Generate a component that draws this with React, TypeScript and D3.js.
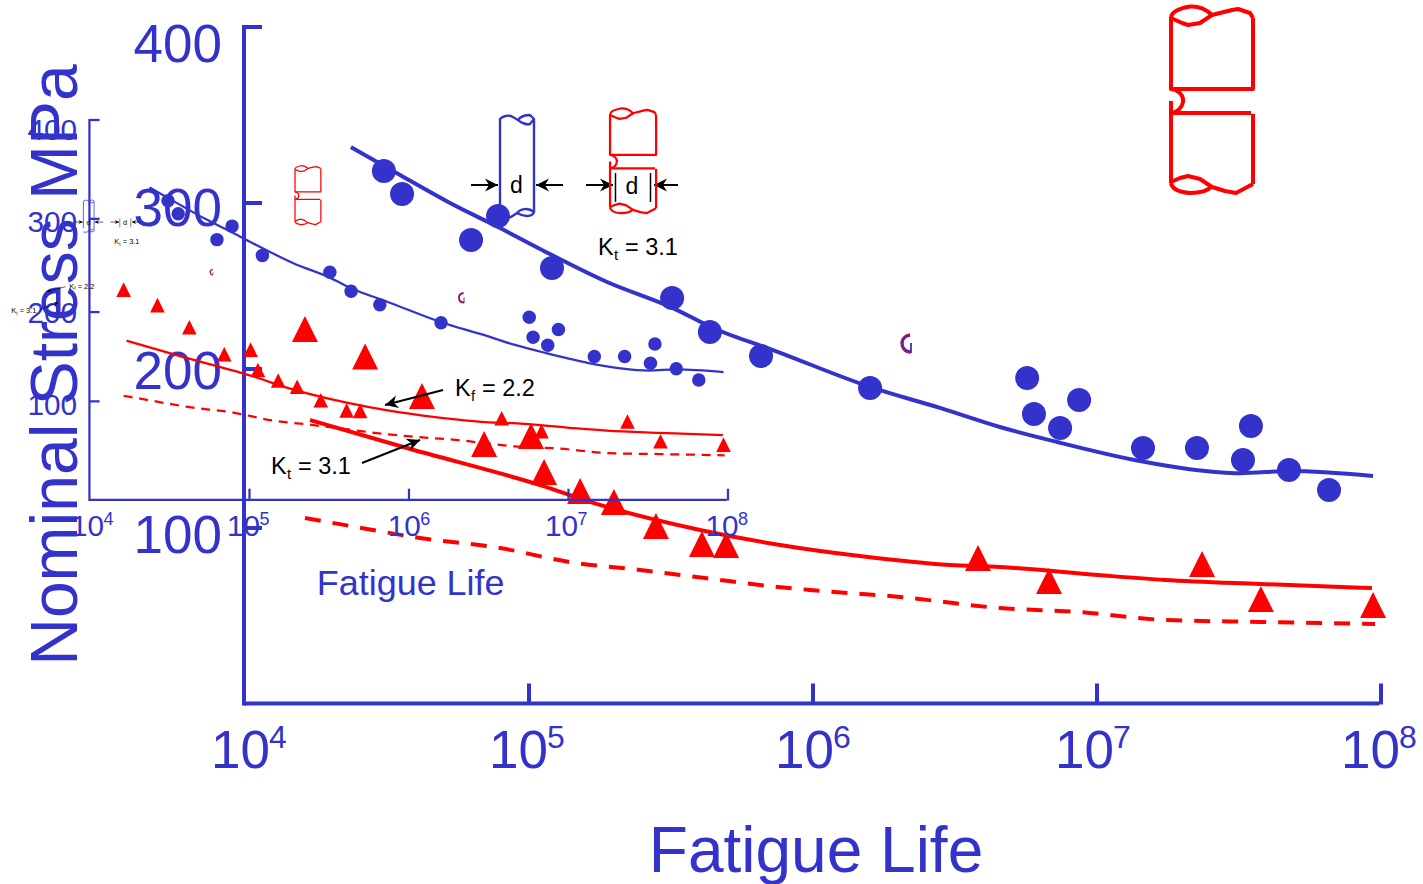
import React from "react";
import * as d3 from "d3";

const BLUE = "#3333CC";
const RED = "#FF0000";
const FONT = "'Liberation Sans', Arial, sans-serif";

// --- data (log10 of life, stress in MPa) ---
const dotLogLife = [4.489, 4.553, 4.891, 4.796, 5.081, 5.504, 5.637, 5.817, 6.201, 6.754, 6.778, 6.937, 6.87, 7.162, 7.352, 7.542, 7.514, 7.676, 7.817];
const dotStress = [318.2, 305.1, 292.2, 277.7, 260.8, 242.8, 222.3, 207.8, 188.1, 194.3, 171.7, 180.5, 162.9, 150.3, 150.3, 164.2, 142.8, 136.5, 123.9];
const triLogLife = [4.211, 4.423, 4.623, 4.842, 5.007, 5.053, 5.18, 5.299, 5.447, 5.609, 5.694, 6.581, 6.831, 7.37, 7.577, 7.972];
const triStress = [224.1, 207.5, 183.0, 152.8, 157.9, 135.2, 123.3, 116.4, 101.3, 90.9, 90.3, 82.9, 69.8, 79.5, 59.5, 56.1];
const blueCurveLog = [4.373, 4.546, 4.722, 4.898, 5.039, 5.275, 5.507, 5.648, 5.859, 6.211, 6.447, 6.658, 6.859, 7.151, 7.327, 7.504, 7.68, 7.972];
const blueCurveStress = [331.8, 315.9, 300, 284.9, 272.3, 252.4, 236.7, 224.7, 211.4, 188.1, 175.5, 163.5, 154.1, 142.1, 137, 134.5, 135.8, 132.7];
const redCurveLog = [4.229, 4.57, 5.039, 5.25, 5.602, 5.884, 6.165, 6.482, 6.658, 7.004, 7.239, 7.574, 7.968];
const redCurveStress = [167.9, 150.3, 127, 114.5, 98.9, 90.3, 84.0, 78.9, 77.8, 73.2, 70.4, 68.1, 65.8];
const dashCurveLog = [4.211, 4.37, 4.616, 4.898, 5.144, 5.391, 5.673, 5.813, 5.989, 6.306, 6.658, 6.94, 7.239, 7.574, 7.979];
const dashCurveStress = [106.3, 101.3, 94.3, 88.6, 80.6, 76.1, 70.4, 67.5, 64.7, 60.7, 54.4, 52.1, 47.6, 46.5, 45.3];
const xTickExps = [4, 5, 6, 7, 8];
const yTickValues = [100, 200, 300, 400];

// --- scales ---
const x = d3.scaleLog().domain([1e4, 1e8]).range([245, 1381]);
const y = d3.scaleLinear().domain([0, 100, 200, 300, 400]).range([703.5, 528, 369, 203, 27]);
const yLabel = d3.scaleLinear().domain([100, 400]).range([553, 62]);
const px = (e: number) => x(Math.pow(10, e));

const makeLine = (xs: number[], ys: number[]) =>
  d3.line<number>().x((e) => px(e)).y((_, i) => y(ys[i])).curve(d3.curveMonotoneX)(xs) as string;

const xLabelNudge: Record<number, number> = { 4: -34, 5: -40, 6: -38, 7: -42, 8: -40 };

// copy transforms of the pasted, shrunken figure
const T1 = "matrix(0.5616 0 0 0.5616 -47.6 104.84)";
const T2 = "matrix(0.3154 0 0 0.3154 -74.33 163.7)";

const specimenPaths = [
  "M1171,18 C1171,12 1180,8 1190,6.5 C1200,6 1207,10 1212,15 L1232,10 L1238,9 L1250,13 L1253,18",
  "M1171,18 L1182,23 L1188,25 L1200,23 L1212,15",
  "M1171,18 V89 H1253 V18",
  "M1171,89 C1180,90 1184,97 1183,102 C1182,108 1177,112 1172,113",
  "M1171,101 V113 H1251",
  "M1171,113 V183",
  "M1253,114 V184",
  "M1171,182 L1180,178 L1188,176 L1200,179 L1212,187 L1225,191 L1236,193 L1253,184",
  "M1171,183 C1172,188 1176,192 1190,193 C1200,193 1208,191 1212,186",
];

const Specimen = () => (
  <g fill="none" stroke={RED} strokeWidth={4} strokeLinejoin="round">
    {specimenPaths.map((d, i) => <path key={i} d={d} />)}
  </g>
);

const Hook = () => (
  <g fill="none">
    <path d="M910,335 C904,336 902,340 902,343 C902,348 905,352 911,352" stroke={RED} strokeWidth={3.4} />
    <path d="M910,335 C904,336 902,340 902,343 C902,348 905,352 911,352 V343" stroke={BLUE} strokeWidth={1.8} />
  </g>
);

const Arrow = ({ x1, y1, x2, y2 }: { x1: number; y1: number; x2: number; y2: number }) => {
  const a = (Math.atan2(y2 - y1, x2 - x1) * 180) / Math.PI;
  return (
    <g>
      <line x1={x1} y1={y1} x2={x2} y2={y2} stroke="#000" strokeWidth={2} />
      <path d="M0,0 L-13,-6.5 L-9,0 L-13,6.5 Z" fill="#000" transform={`translate(${x2},${y2}) rotate(${a})`} />
    </g>
  );
};

const KLabel = ({ px: lx, py, sub, val }: { px: number; py: number; sub: string; val: string }) => (
  <g fontFamily={FONT} fill="#000">
    <text x={lx} y={py} fontSize={23.5}>K</text>
    <text x={lx + 16} y={py + 5} fontSize={15}>{sub}</text>
    <text x={lx + 27} y={py} fontSize={23.5}>{val}</text>
  </g>
);

const Annotation = () => (
  <g>
    <g fill="none" stroke={BLUE} strokeWidth={2.4} strokeLinejoin="round">
      <path d="M500,205 V119 C503,116 508,115 511,116 L518,120 C521,116 527,115 530,115 L534,119 V212" />
      <path d="M518,120 C521,123 527,125 530,124 L534,119" />
      <path d="M500,217 L511,217 L517,213 C520,209 528,207 534,212 C533,216 526,218 517,213" />
    </g>
    <Arrow x1={471} y1={185} x2={498} y2={185} />
    <Arrow x1={563} y1={185} x2={536} y2={185} />
    <Arrow x1={586} y1={185} x2={613} y2={185} />
    <Arrow x1={678} y1={185} x2={654} y2={185} />
    <line x1={615.5} y1={173} x2={615.5} y2={202} stroke="#000" strokeWidth={1.5} />
    <line x1={650.5} y1={173} x2={650.5} y2={202} stroke="#000" strokeWidth={1.5} />
    <text x={516.5} y={193} fontSize={23} fontFamily={FONT} textAnchor="middle" fill="#000">d</text>
    <text x={632} y={194} fontSize={23} fontFamily={FONT} textAnchor="middle" fill="#000">d</text>
    <KLabel px={598} py={255} sub="t" val="= 3.1" />
    <KLabel px={455} py={396} sub="f" val="= 2.2" />
    <KLabel px={271} py={474} sub="t" val="= 3.1" />
    <Arrow x1={443} y1={390} x2={385} y2={405} />
    <Arrow x1={362} y1={463} x2={420} y2={440} />
  </g>
);

const Panel = () => (
  <g>
    {/* axes */}
    <g stroke={BLUE} strokeWidth={4} fill="none">
      <line x1={244} y1={y(400) - 2} x2={244} y2={y(0) + 2} />
      <line x1={244} y1={y(0)} x2={1379} y2={y(0)} />
      {yTickValues.map((v) => <line key={v} x1={244} x2={262} y1={y(v)} y2={y(v)} />)}
      {xTickExps.slice(1).map((e) => <line key={e} x1={px(e)} x2={px(e)} y1={y(0) - 20} y2={y(0) + 1} />)}
    </g>
    {/* tick labels */}
    <g fill={BLUE} fontFamily={FONT}>
      {yTickValues.map((v) => (
        <text key={v} x={222} y={yLabel(v)} fontSize={53} textAnchor="end">{v}</text>
      ))}
      {xTickExps.map((e) => (
        <g key={e}>
          <text x={px(e) + xLabelNudge[e]} y={768} fontSize={53}>10</text>
          <text x={px(e) + xLabelNudge[e] + 58} y={748} fontSize={32}>{e}</text>
        </g>
      ))}
      <text x={816} y={872} fontSize={64} textAnchor="middle">Fatigue Life</text>
      <text transform="translate(77,365) rotate(-90)" fontSize={66} textAnchor="middle">Nominal Stress MPa</text>
    </g>
    {/* curves */}
    <path d={makeLine(blueCurveLog, blueCurveStress)} fill="none" stroke={BLUE} strokeWidth={4} />
    <path d={makeLine(redCurveLog, redCurveStress)} fill="none" stroke={RED} strokeWidth={4} />
    <path d={makeLine(dashCurveLog, dashCurveStress)} fill="none" stroke={RED} strokeWidth={4} strokeDasharray="16 12" />
    {/* points */}
    {dotLogLife.map((e, i) => (
      <circle key={i} cx={px(e)} cy={y(dotStress[i])} r={12} fill={BLUE} />
    ))}
    {triLogLife.map((e, i) => (
      <path key={i} d="M0,-13 L13,13 L-13,13 Z" fill={RED} transform={`translate(${px(e)},${y(triStress[i])})`} />
    ))}
    <Specimen />
    <Hook />
  </g>
);

export default function App() {
  return (
    <svg
      width={1423}
      height={884}
      viewBox="0 0 1423 884"
      style={{ position: "absolute", left: 0, top: 0, display: "block", background: "#fff" }}
    >
      <Panel />
      <Annotation />
      <g transform={T1}><Panel /></g>
      <g transform={T2}>
        <Specimen />
        <Hook />
        <Annotation />
      </g>
    </svg>
  );
}
